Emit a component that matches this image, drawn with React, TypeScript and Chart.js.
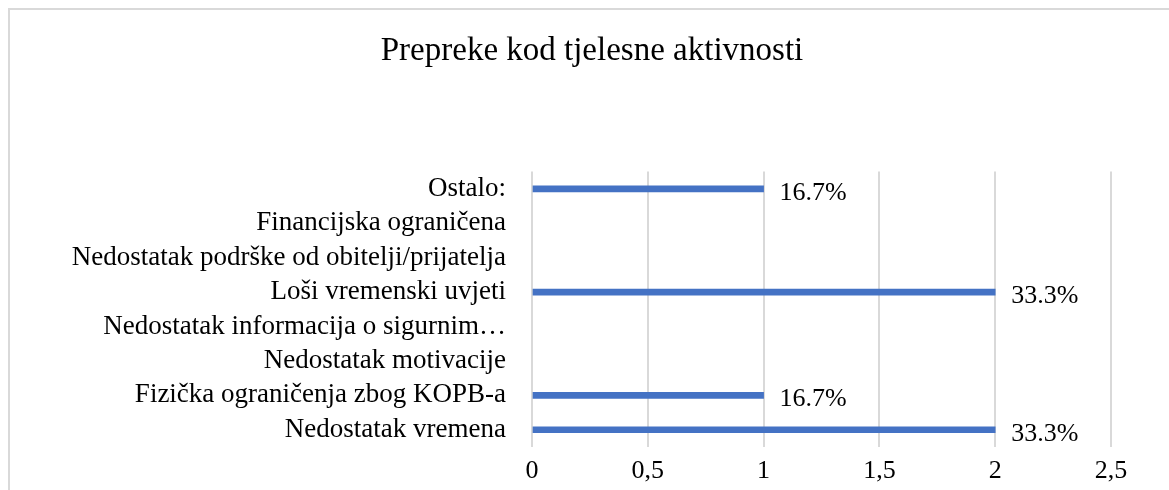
import React, { useEffect, useRef } from "react";
import { Chart, registerables } from "chart.js";

Chart.register(...registerables);

const categories = [
  "Ostalo:",
  "Financijska ograničena",
  "Nedostatak podrške od obitelji/prijatelja",
  "Loši vremenski uvjeti",
  "Nedostatak informacija o sigurnim…",
  "Nedostatak motivacije",
  "Fizička ograničenja zbog KOPB-a",
  "Nedostatak vremena",
];
const counts = [1, 0, 0, 2, 0, 0, 1, 2];
const percentLabels = ["16.7%", "", "", "33.3%", "", "", "16.7%", "33.3%"];
const xTicks = [0, 0.5, 1, 1.5, 2, 2.5];

const FONT = "'Liberation Serif', 'Times New Roman', serif";
const BAR_COLOR = "#4472c4";

const dataLabelPlugin = {
  id: "dataLabels",
  afterDatasetsDraw(chart: any) {
    const ctx = chart.ctx;
    const meta = chart.getDatasetMeta(0);
    ctx.save();
    ctx.font = `26px ${FONT}`;
    ctx.fillStyle = "#000";
    ctx.textAlign = "left";
    ctx.textBaseline = "middle";
    meta.data.forEach((bar: any, i: number) => {
      const label = percentLabels[i];
      if (!label) return;
      ctx.fillText(label, bar.x + 16, bar.y + 4);
    });
    ctx.restore();
  },
};

export default function App() {
  const ref = useRef<HTMLCanvasElement | null>(null);
  useEffect(() => {
    if (!ref.current) return;
    const chart = new Chart(ref.current, {
      type: "bar",
      data: {
        labels: categories,
        datasets: [
          {
            data: counts,
            backgroundColor: counts.map((v) => (v ? BAR_COLOR : "rgba(0,0,0,0)")),
            barThickness: 6,
          },
        ],
      },
      options: {
        indexAxis: "y",
        animation: false,
        responsive: false,
        maintainAspectRatio: false,
        layout: { padding: 0 },
        plugins: {
          legend: { display: false },
          tooltip: { enabled: false },
          title: {
            display: true,
            text: "Prepreke kod tjelesne aktivnosti",
            color: "#000",
            font: { family: FONT, size: 33, weight: "normal", lineHeight: 1.2 },
            padding: { top: 22, bottom: 100 },
          },
        },
        scales: {
          x: {
            min: 0,
            max: 2.5,
            afterBuildTicks(scale: any) {
              scale.ticks = xTicks.map((v) => ({ value: v }));
            },
            afterFit(scale: any) {
              scale.height = 53;
            },
            grid: { color: "#d9d9d9", lineWidth: 2, drawTicks: false },
            border: { display: false },
            ticks: {
              color: "#000",
              padding: 9,
              font: { family: FONT, size: 26 },
              callback: (v: any) => String(v).replace(".", ","),
            },
          },
          y: {
            afterFit(scale: any) {
              scale.width = 522;
            },
            grid: { display: false, drawTicks: false },
            border: { display: false },
            ticks: {
              color: "#000",
              padding: 26,
              autoSkip: false,
              font: { family: FONT, size: 27 },
            },
          },
          yRight: {
            type: "linear",
            position: "right",
            display: true,
            afterFit(scale: any) {
              scale.width = 63;
            },
            grid: { display: false, drawTicks: false },
            border: { display: false },
            ticks: { display: false },
          },
        },
      },
      plugins: [dataLabelPlugin],
    });
    return () => chart.destroy();
  }, []);

  return (
    <div
      style={{
        position: "fixed",
        left: 8,
        top: 8,
        width: 1161,
        height: 482,
        overflow: "hidden",
      }}
    >
      <div
        style={{
          width: 1168,
          height: 500,
          borderTop: "2px solid #d9d9d9",
          borderLeft: "2px solid #d9d9d9",
          boxSizing: "border-box",
          background: "#fff",
        }}
      >
        <canvas ref={ref} width={1164} height={490} style={{ display: "block" }} />
      </div>
    </div>
  );
}
